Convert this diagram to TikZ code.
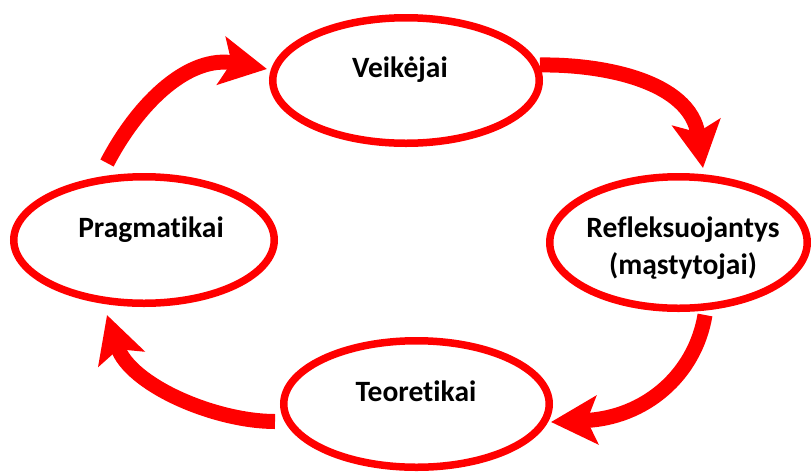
\documentclass[tikz,border=0pt]{standalone}
\usepackage{fontspec}
\setmainfont{Carlito}[Ligatures=NoCommon]
\usetikzlibrary{shapes.geometric,arrows.meta,calc}
\definecolor{cyclered}{RGB}{255,0,0}
\tikzset{
  role/.style={ellipse, draw=cyclered, line width=7.5pt, fill=white, inner sep=0pt},
  lbl/.style={font=\bfseries\fontsize{29.5}{37}\selectfont, text=black, inner sep=0pt, anchor=base},
  band/.style={draw=cyclered, line width=15pt,
    -{Stealth[length=46pt, width=48pt, inset=10pt, fill=cyclered]}},
}
\begin{document}
\begin{tikzpicture}[x=1pt,y=-1pt]
\useasboundingbox (0,0) rectangle (811,472);

% the four roles
\node[role, minimum width=266.5pt, minimum height=125.5pt] (veik) at (406,80.5) {};
\node[role, minimum width=257.5pt, minimum height=131.5pt] (refl) at (678.5,242.5) {};
\node[role, minimum width=265.5pt, minimum height=126.5pt] (teor) at (416.5,404) {};
\node[role, minimum width=260.5pt, minimum height=126.5pt] (prag) at (144,240) {};

\node[lbl] (tveik) at (400,77.3) {Veikėjai};
\node[lbl] (trefl) at (683,237) {Refleksuojantys};
\node[lbl] (trefl2) at (683,274) {(mąstytojai)};
\node[lbl] (tteor) at (416,401.7) {Teoretikai};
\node[lbl] (tprag) at (151,237.3) {Pragmatikai};

% arrow ends, placed around the roles
\coordinate (a1s) at ($(prag.center)+(-37,-77)$);
\coordinate (a1e) at ($(veik.center)+(-139,-11.5)$);
\coordinate (a2s) at ($(veik.center)+(134,-15.5)$);
\coordinate (a2e) at ($(refl.center)+(24.5,-74.5)$);
\coordinate (a3s) at ($(refl.center)+(26.5,72.5)$);
\coordinate (a3e) at ($(teor.center)+(134.5,18)$);
\coordinate (a4s) at ($(teor.center)+(-141.5,17.5)$);
\coordinate (a4e) at ($(prag.center)+(-37,75)$);

% the cycle
\draw[band] (a1s) .. controls (140,100) and (190,55) .. (a1e);
\draw[band] (a2s) .. controls (600,64) and (690,80) .. (a2e);
\draw[band] (a3s) .. controls (695,375) and (645,418) .. (a3e);
\draw[band] (a4s) .. controls (215,421.5) and (130,385) .. (a4e);
\end{tikzpicture}
\end{document}
